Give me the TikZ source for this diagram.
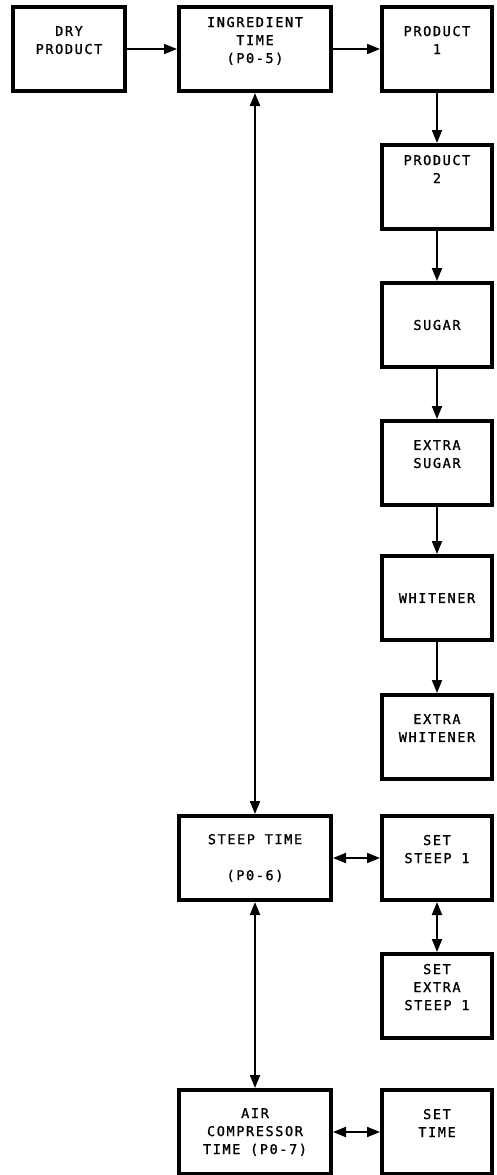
\documentclass[tikz,border=0pt]{standalone}
\usepackage{fontspec}
\newfontfamily\plotfont[LetterSpace=12, FakeBold=1.2]{DejaVu Sans Mono}
\usetikzlibrary{arrows.meta}

\begin{document}
\begin{tikzpicture}[x=1pt, y=-1pt, >={Triangle[length=13pt,width=10pt]}]
        \tikzset{block/.style={rectangle, draw, line width=4pt, minimum width=110pt, minimum height=84pt, inner sep=2pt, align=center, font=\plotfont\fontsize{13.5}{18}\selectfont}, wide/.style={block, minimum width=152pt}, link/.style={line width=2pt}}
        \useasboundingbox (0,0) rectangle (496,1175);
        \node[block, minimum width=112pt] (dry) at (69,49) {DRY\\PRODUCT\\~};
        \node[wide] (ing) at (255,49) {INGREDIENT\\TIME\\(P0-5)\\~};
        \node[block] (p1) at (437,49) {PRODUCT\\1\\~};
        \node[block] (p2) at (437,187) {PRODUCT\\2\\~\\~};
        \node[block] (sugar) at (437,325) {SUGAR};
        \node[block] (xsugar) at (437,463) {EXTRA\\SUGAR\\~};
        \node[block] (whit) at (437,598) {WHITENER};
        \node[block] (xwhit) at (437,737) {EXTRA\\WHITENER\\~};
        \node[wide] (steep) at (255,858) {STEEP TIME\\~\\(P0-6)};
        \node[block] (setst) at (437,858) {SET\\STEEP 1\\~};
        \node[block] (setxst) at (437,996) {SET\\EXTRA\\STEEP 1\\~};
        \node[wide] (air) at (255,1132) {AIR\\COMPRESSOR\\TIME (P0-7)};
        \node[block] (settime) at (437,1132) {SET\\TIME\\~};
        \draw[link, ->] (dry) -- (ing);
        \draw[link, ->] (ing) -- (p1);
        \foreach \a/\b in {p1/p2, p2/sugar, sugar/xsugar, xsugar/whit, whit/xwhit} {\draw[link, ->] (\a) -- (\b);}
        \foreach \a/\b in {ing/steep, steep/air, steep/setst, setst/setxst, air/settime} {\draw[link, <->] (\a) -- (\b);}
    \end{tikzpicture}
\end{document}
